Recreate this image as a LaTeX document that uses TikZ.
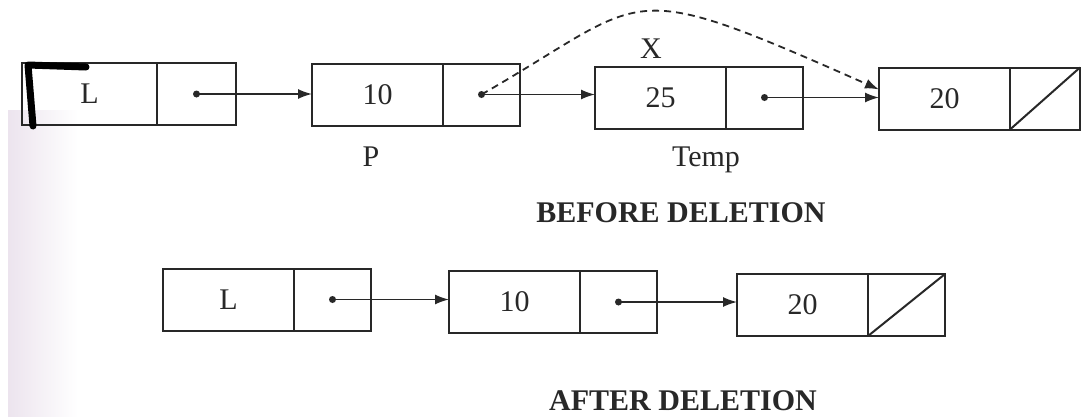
\documentclass[tikz,border=0pt]{standalone}
\usepackage{fontspec}
\setmainfont{Liberation Serif}
\usetikzlibrary{arrows.meta}
\definecolor{inkc}{RGB}{40,40,40}
\definecolor{scanstrip}{RGB}{236,228,238}
\begin{document}
\begin{tikzpicture}[x=1pt,y=-1pt,
  ink/.style={draw=inkc, line width=2pt},
  datacell/.style={ink, rectangle, minimum width=131pt, minimum height=62pt,
    inner sep=0pt, outer sep=0pt, font=\fontsize{30}{32}\selectfont, text=inkc},
  ptrcell/.style={ink, rectangle, minimum width=77pt, minimum height=62pt,
    inner sep=0pt, outer sep=0pt, anchor=west},
  link/.style={line width=1.6pt, draw=inkc, -{Latex[length=14pt,width=10pt]}},
  dashlink/.style={line width=1.8pt, draw=inkc, dash pattern=on 7pt off 5pt,
    -{Latex[length=14pt,width=10pt]}},
  ptrdot/.style={circle, fill=inkc, inner sep=0pt, minimum size=7pt},
  lbl/.style={font=\fontsize{30}{32}\selectfont, text=inkc},
  head/.style={font=\bfseries\fontsize{30}{32}\selectfont, text=inkc}]
\useasboundingbox (0,0) rectangle (1082,416);
\fill[white] (0,0) rectangle (1082,416);
\shade[left color=scanstrip, right color=white] (8,110) rectangle (78,416);

% ---- BEFORE DELETION ----
\node[datacell, minimum width=135pt] (tL) at (89.5,94) {L};
\node[ptrcell, minimum width=79pt] (tLp) at (tL.east) {};
\node[ptrdot] (tLd) at (tLp.center) {};

\node[datacell] (t10) at (377.5,94.5) {10};
\node[ptrcell] (t10p) at (t10.east) {};
\node[ptrdot] (t10d) at (t10p.center) {};

\node[datacell] (t25) at (660.5,97.5) {25};
\node[ptrcell] (t25p) at (t25.east) {};
\node[ptrdot] (t25d) at (t25p.center) {};

\node[datacell] (t20) at (944.5,98.5) {20};
\node[ptrcell, minimum width=70pt] (t20p) at (t20.east) {};
\draw[ink] (t20p.south west) -- (t20p.north east);

\draw[link] (tLd.center) -- (tLd.center -| t10.west);
\draw[link] (t10d.center) -- (t10d.center -| t25.west);
\draw[link] (t25d.center) -- (t25d.center -| t20.west);
\coordinate (dashend) at ([yshift=9pt]t20.west);
\draw[dashlink] (t10d.center) .. controls (653,-4) and (618,-26) .. (dashend);

\node[lbl] (xl) at (651,49) {X};
\node[lbl] (pl) at (371,157) {P};
\node[lbl] (templ) at (706,160) {Temp};
\node[head] (before) at (681,213) {BEFORE DELETION};

% handwritten mark
\draw[line width=7pt, line cap=round, line join=round, black] (86,67) -- (28,65) -- (33,126);

% ---- AFTER DELETION ----
\node[datacell] (bL) at (228.5,299.5) {L};
\node[ptrcell] (bLp) at (bL.east) {};
\node[ptrdot] (bLd) at (bLp.center) {};

\node[datacell] (b10) at (514.5,302) {10};
\node[ptrcell] (b10p) at (b10.east) {};
\node[ptrdot] (b10d) at (b10p.center) {};

\node[datacell] (b20) at (802.5,305) {20};
\node[ptrcell] (b20p) at (b20.east) {};
\draw[ink] (b20p.south west) -- (b20p.north east);

\draw[link] (bLd.center) -- (bLd.center -| b10.west);
\draw[link] (b10d.center) -- (b10d.center -| b20.west);

\node[head] (after) at (683,401) {AFTER DELETION};
\end{tikzpicture}
\end{document}
